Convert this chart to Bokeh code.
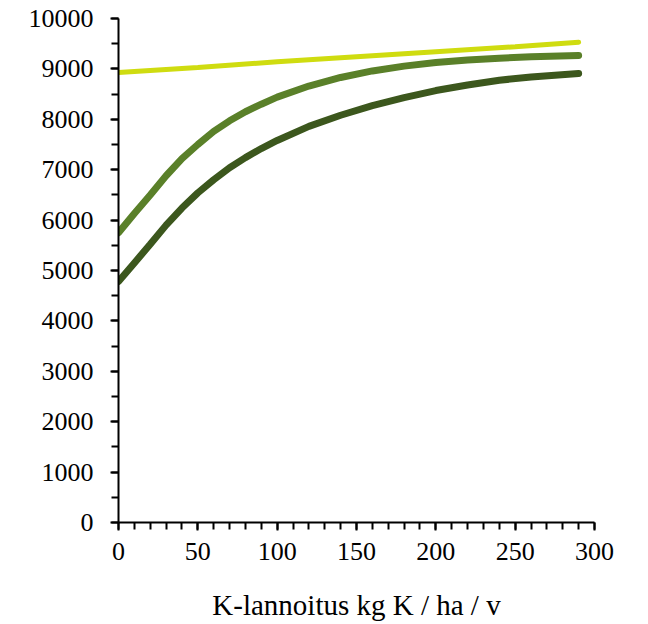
from bokeh.plotting import figure
from bokeh.models import Range1d, SingleIntervalTicker
from bokeh.embed import file_html
from bokeh.resources import INLINE

# --- data ---
x_light = [0, 50, 100, 150, 200, 250, 290]
y_light = [8930, 9030, 9140, 9240, 9340, 9440, 9530]

x_mid = [0, 10, 20, 30, 40, 50, 60, 70, 80, 90, 100, 120, 140, 160, 180, 200, 220, 240, 260, 290]
y_mid = [5750, 6130, 6500, 6880, 7220, 7500, 7760, 7970, 8150, 8300, 8440, 8660, 8830,
         8960, 9055, 9125, 9175, 9212, 9240, 9266]

x_dark = [0, 10, 20, 30, 40, 50, 60, 70, 80, 90, 100, 120, 140, 160, 180, 200, 220, 240, 260, 290]
y_dark = [4780, 5150, 5520, 5900, 6240, 6540, 6800, 7040, 7240, 7420, 7580, 7860, 8080,
          8270, 8430, 8570, 8680, 8775, 8840, 8909]

x_label = "K-lannoitus kg K / ha / v"

FONT = "Liberation Serif"

p = figure(width=640, height=624, output_backend="svg", toolbar_location=None,
           x_range=Range1d(0, 300), y_range=Range1d(0, 10000),
           min_border_left=118, min_border_right=46, min_border_top=18, min_border_bottom=102)
p.outline_line_color = None
p.xgrid.grid_line_color = None
p.ygrid.grid_line_color = None

p.line(x_light, y_light, line_color="#cfdc10", line_width=5, line_cap="round")
p.line(x_mid, y_mid, line_color="#5a8029", line_width=7, line_cap="round")
p.line(x_dark, y_dark, line_color="#3c571d", line_width=7, line_cap="round")

p.xaxis.ticker = SingleIntervalTicker(interval=50, num_minor_ticks=5)
p.yaxis.ticker = SingleIntervalTicker(interval=1000, num_minor_ticks=2)

for ax in (p.xaxis[0], p.yaxis[0]):
    ax.axis_line_width = 2
    ax.axis_line_color = "black"
    ax.major_tick_line_width = 2
    ax.minor_tick_line_width = 2
    ax.major_tick_line_color = "black"
    ax.minor_tick_line_color = "black"
    ax.major_tick_in = 0
    ax.minor_tick_in = 0
    ax.major_tick_out = 8
    ax.minor_tick_out = 7
    ax.major_label_text_font = FONT
    ax.major_label_text_font_size = "26px"
    ax.major_label_text_color = "black"
    ax.axis_label_text_font = FONT
    ax.axis_label_text_font_size = "29px"
    ax.axis_label_text_font_style = "normal"
    ax.axis_label_text_color = "black"

p.yaxis.major_label_standoff = 17
p.xaxis.major_label_standoff = 12
p.xaxis.axis_label = x_label
p.xaxis.axis_label_standoff = 26

open("out.html", "w").write(file_html(p, INLINE))
